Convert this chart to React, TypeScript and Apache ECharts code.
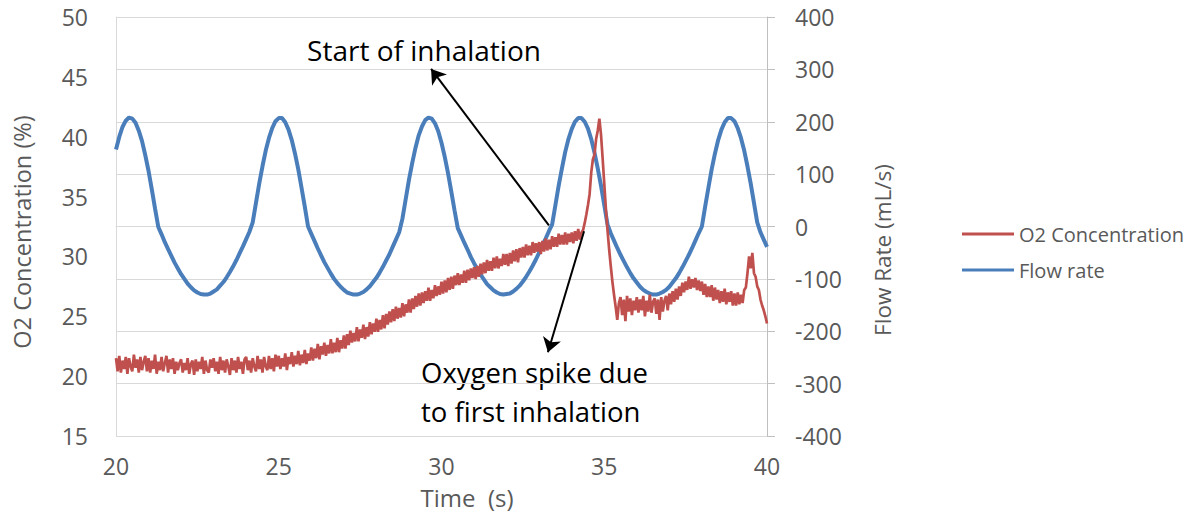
import React, { useEffect, useRef } from "react";
import * as echarts from "echarts";

// Axis ticks
const timeTicks = [20, 25, 30, 35, 40];
const o2Ticks = [15, 20, 25, 30, 35, 40, 45, 50];
const flowTicks = [-400, -300, -200, -100, 0, 100, 200, 300, 400];

// O2 concentration (%) sampled every 0.05 s from 20 s to 40 s
const O2_START = 20;
const O2_STEP = 0.05;
const o2Values: number[] = [
  // 20 s
  21.5, 20.4, 21.7, 20.3, 21.3, 20.6, 21.6, 20.2, 21.5, 20.8, 20.4, 21.8, 20.7, 21.4, 20.3, 21.6, 20.5, 21.2, 21.7, 20.4,
  // 21 s
  21.5, 20.3, 21.3, 20.6, 21.8, 20.2, 21.2, 20.5, 21.6, 20.4, 21.1, 21.7, 20.3, 21.4, 20.6, 21.5, 20.2, 21.2, 20.5, 21.1,
  // 22 s
  21.4, 20.3, 21.1, 20.5, 21.5, 20.2, 21.0, 21.3, 20.1, 21.4, 20.4, 21.2, 20.6, 21.6, 20.2, 21.3, 20.5, 20.3, 21.4, 20.7,
  // 23 s
  21.5, 20.4, 21.2, 20.2, 21.6, 20.5, 21.3, 20.3, 21.4, 20.8, 20.1, 21.5, 20.5, 21.3, 20.3, 21.6, 20.6, 21.2, 20.2, 21.4,
  // 24 s
  21.6, 20.5, 21.3, 20.3, 21.5, 20.8, 20.4, 21.7, 20.6, 21.4, 20.3, 21.6, 20.8, 20.5, 21.7, 20.6, 21.5, 20.4, 21.8, 20.8,
  // 25 s
  21.7, 20.6, 21.5, 20.8, 21.9, 20.5, 21.6, 21.0, 22.0, 20.8, 21.7, 21.0, 22.1, 20.9, 21.8, 21.1, 22.2, 21.0, 21.9, 21.3,
  // 26 s
  22.4, 21.3, 22.3, 21.5, 22.7, 21.4, 22.5, 21.8, 22.8, 21.7, 22.6, 21.9, 23.1, 21.9, 22.8, 22.0, 23.2, 22.0, 23.0, 22.3,
  // 27 s
  23.4, 22.3, 23.5, 22.6, 23.8, 22.8, 23.6, 22.9, 24.1, 22.9, 23.9, 23.2, 24.3, 23.1, 24.1, 23.3, 24.5, 23.5, 24.4, 23.7,
  // 28 s
  24.8, 23.7, 24.7, 23.9, 25.1, 24.0, 25.2, 24.3, 25.4, 24.5, 25.6, 24.6, 25.8, 24.8, 25.7, 24.9, 26.1, 25.0, 26.0, 25.3,
  // 29 s
  26.4, 25.3, 26.5, 25.6, 26.7, 25.8, 26.9, 25.9, 27.0, 26.1, 27.1, 26.3, 27.4, 26.3, 27.2, 26.5, 27.6, 26.7, 27.5, 26.8,
  // 30 s
  27.9, 26.9, 28.0, 27.0, 28.2, 27.2, 28.3, 27.3, 28.4, 27.6, 28.6, 27.6, 28.5, 27.8, 28.8, 27.8, 28.9, 28.0, 29.0, 28.2,
  // 31 s
  29.1, 28.1, 29.2, 28.3, 29.4, 28.5, 29.5, 28.6, 29.7, 28.8, 29.6, 28.8, 29.9, 29.0, 30.0, 29.0, 29.8, 29.2, 30.2, 29.3,
  // 32 s
  30.2, 29.2, 30.3, 29.4, 30.5, 29.6, 30.6, 29.5, 30.7, 29.9, 30.8, 29.9, 31.0, 30.1, 30.9, 30.1, 31.2, 30.3, 31.1, 30.4,
  // 33 s
  31.2, 30.2, 31.3, 30.4, 31.5, 30.5, 31.4, 30.6, 31.7, 30.8, 31.6, 30.8, 31.9, 31.0, 31.8, 31.0, 32.0, 31.0, 31.9, 31.2,
  // 34 s
  32.0, 31.1, 32.1, 31.3, 32.3, 31.4, 32.0, 32.2, 32.8, 33.5, 34.3, 35.2, 37.0, 38.1, 38.5, 39.8, 40.5, 41.5, 40.2, 38.2,
  // 35 s
  36.1, 34.0, 32.2, 30.6, 29.2, 27.9, 26.8, 25.8, 24.7, 26.1, 26.6, 25.1, 26.4, 24.6, 26.7, 25.4, 26.5, 25.1, 26.3, 25.5,
  // 36 s
  26.6, 25.3, 26.4, 25.5, 26.7, 25.0, 26.3, 25.4, 26.8, 25.3, 26.2, 26.5, 25.2, 26.4, 24.7, 26.6, 25.4, 26.3, 26.7, 25.5,
  // 37 s
  26.9, 26.0, 27.1, 26.2, 27.3, 26.4, 27.5, 26.7, 27.8, 27.0, 27.9, 27.2, 28.3, 27.3, 28.1, 27.4, 28.2, 27.2, 28.0, 27.1,
  // 38 s
  27.9, 26.8, 27.7, 26.6, 27.5, 26.6, 27.6, 26.3, 27.4, 26.4, 27.2, 26.1, 27.1, 26.2, 27.3, 26.0, 27.0, 26.2, 27.1, 25.9,
  // 39 s
  26.9, 25.9, 27.0, 26.0, 26.8, 26.1, 27.2, 27.4, 28.6, 30.0, 29.0, 30.3, 28.6, 28.3, 27.5, 27.2, 26.4, 25.9, 25.5, 25.0,
  // 40 s
  24.4,
];

// Flow rate (mL/s) sampled every 0.1 s from 20 s to 40 s
const FLOW_START = 20;
const FLOW_STEP = 0.1;
const flowValues: number[] = [
  // 20 s
  147, 171, 190, 202, 208, 206, 198, 183, 163, 136,
  // 21 s
  106, 71, 34, -1, -15, -30, -43, -56, -69, -80,
  // 22 s
  -91, -100, -109, -116, -122, -126, -129, -130, -130, -128,
  // 23 s
  -124, -120, -113, -106, -97, -87, -76, -64, -51, -38,
  // 24 s
  -24, -10, 8, 45, 82, 115, 145, 169, 188, 201,
  // 25 s
  207, 207, 199, 185, 165, 139, 109, 74, 38, 0,
  // 26 s
  -14, -28, -42, -55, -68, -79, -90, -100, -108, -115,
  // 27 s
  -121, -126, -128, -130, -130, -128, -125, -120, -114, -106,
  // 28 s
  -98, -88, -77, -65, -53, -39, -25, -11, 15, 52,
  // 29 s
  89, 121, 150, 174, 191, 203, 208, 206, 197, 182,
  // 30 s
  160, 133, 102, 67, 31, -3, -17, -31, -44, -58,
  // 31 s
  -70, -81, -92, -101, -110, -116, -122, -126, -129, -130,
  // 32 s
  -129, -128, -124, -119, -113, -105, -96, -86, -75, -63,
  // 33 s
  -50, -36, -23, -9, 4, 41, 78, 111, 142, 167,
  // 34 s
  186, 200, 207, 207, 200, 187, 167, 141, 111, 78,
  // 35 s
  41, 4, -13, -27, -41, -54, -66, -78, -89, -99,
  // 36 s
  -107, -115, -121, -125, -128, -130, -130, -128, -125, -121,
  // 37 s
  -115, -107, -99, -89, -78, -66, -54, -41, -27, -13,
  // 38 s
  0, 38, 74, 109, 139, 165, 185, 199, 207, 207,
  // 39 s
  201, 188, 169, 145, 115, 82, 45, 8, -11, -25,
  // 40 s
  -39,
];

const seriesNames = ["O2 Concentration", "Flow rate"];

const FONT = "'Open Sans', 'DejaVu Sans', sans-serif";
const GREY = "#595959";
const RED = "#C0504D";
const BLUE = "#4A7EBB";

export default function App() {
  const ref = useRef<HTMLDivElement>(null);

  useEffect(() => {
    if (!ref.current) return;
    const chart = echarts.init(ref.current, undefined, { renderer: "svg" });

    const o2Data = o2Values.map((v, i) => [
      Math.round((O2_START + i * O2_STEP) * 100) / 100,
      v,
    ]);
    const flowData = flowValues.map((v, i) => [
      Math.round((FLOW_START + i * FLOW_STEP) * 100) / 100,
      v,
    ]);

    chart.setOption({
      animation: false,
      backgroundColor: "#ffffff",
      textStyle: { fontFamily: FONT },
      grid: { left: 116, right: 430, top: 17, bottom: 80, containLabel: false },
      legend: {
        orient: "vertical",
        left: 962,
        top: 221,
        padding: 0,
        icon: "rect",
        itemWidth: 52,
        itemHeight: 3,
        itemGap: 10,
        data: seriesNames,
        textStyle: { fontFamily: FONT, fontSize: 20, color: GREY, lineHeight: 26 },
      },
      xAxis: {
        type: "value",
        min: timeTicks[0],
        max: timeTicks[timeTicks.length - 1],
        interval: 5,
        axisLine: { show: true, lineStyle: { color: "#D9D9D9", width: 1 } },
        axisTick: { show: false },
        splitLine: { show: false },
        axisLabel: { fontFamily: FONT, fontSize: 23, color: GREY, margin: 18 },
      },
      yAxis: [
        {
          type: "value",
          min: o2Ticks[0],
          max: o2Ticks[o2Ticks.length - 1],
          interval: 5,
          axisLine: { show: true, lineStyle: { color: "#D9D9D9", width: 1 } },
          axisTick: { show: false },
          splitLine: { show: false },
          axisLabel: { fontFamily: FONT, fontSize: 23, color: GREY, margin: 28 },
        },
        {
          type: "value",
          position: "right",
          min: flowTicks[0],
          max: flowTicks[flowTicks.length - 1],
          interval: 100,
          axisLine: { show: true, lineStyle: { color: "#BFBFBF", width: 1 } },
          axisTick: { show: true, length: 8, lineStyle: { color: "#BFBFBF" } },
          splitLine: { show: true, lineStyle: { color: "#D9D9D9", width: 1 } },
          axisLabel: { fontFamily: FONT, fontSize: 23, color: GREY, margin: 28 },
        },
      ],
      series: [
        {
          name: seriesNames[1],
          type: "line",
          yAxisIndex: 1,
          data: flowData,
          symbol: "none",
          smooth: false,
          z: 2,
          color: BLUE,
          itemStyle: { color: BLUE },
          lineStyle: { color: BLUE, width: 4 },
        },
        {
          name: seriesNames[0],
          type: "line",
          yAxisIndex: 0,
          data: o2Data,
          symbol: "none",
          z: 3,
          color: RED,
          itemStyle: { color: RED },
          lineStyle: { color: RED, width: 2.7 },
          markLine: {
            silent: true,
            symbol: ["none", "arrow"],
            symbolSize: 14,
            label: { show: false },
            lineStyle: { color: "#000000", width: 2, type: "solid" },
            emphasis: { disabled: true },
            data: [
              [{ coord: [33.3, 32.6] }, { coord: [29.68, 45.66] }],
              [{ coord: [34.38, 32.1] }, { coord: [33.27, 22.0] }],
            ],
          },
        },
      ],
      graphic: [
        {
          type: "text",
          x: 424,
          y: 50,
          style: {
            text: "Start of inhalation",
            fontFamily: FONT,
            fontSize: 28,
            fill: "#000000",
            align: "center",
            verticalAlign: "middle",
          },
        },
        {
          type: "text",
          x: 421,
          y: 372,
          style: {
            text: "Oxygen spike due",
            fontFamily: FONT,
            fontSize: 27.5,
            fill: "#000000",
            align: "left",
            verticalAlign: "middle",
          },
        },
        {
          type: "text",
          x: 421,
          y: 411,
          style: {
            text: "to first inhalation",
            fontFamily: FONT,
            fontSize: 27.5,
            fill: "#000000",
            align: "left",
            verticalAlign: "middle",
          },
        },
        {
          type: "text",
          x: 22,
          y: 232,
          rotation: Math.PI / 2,
          style: {
            text: "O2 Concentration (%)",
            fontFamily: FONT,
            fontSize: 23.5,
            fill: GREY,
            align: "center",
            verticalAlign: "middle",
          },
        },
        {
          type: "text",
          x: 882,
          y: 250,
          rotation: Math.PI / 2,
          style: {
            text: "Flow Rate (mL/s)",
            fontFamily: FONT,
            fontSize: 22.5,
            fill: GREY,
            align: "center",
            verticalAlign: "middle",
          },
        },
        {
          type: "text",
          x: 467,
          y: 497,
          style: {
            text: "Time  (s)",
            fontFamily: FONT,
            fontSize: 24,
            fill: GREY,
            align: "center",
            verticalAlign: "middle",
          },
        },
      ],
    });

    return () => chart.dispose();
  }, []);

  return (
    <div
      ref={ref}
      style={{ position: "absolute", left: 0, top: 0, width: 1197, height: 516 }}
    />
  );
}
